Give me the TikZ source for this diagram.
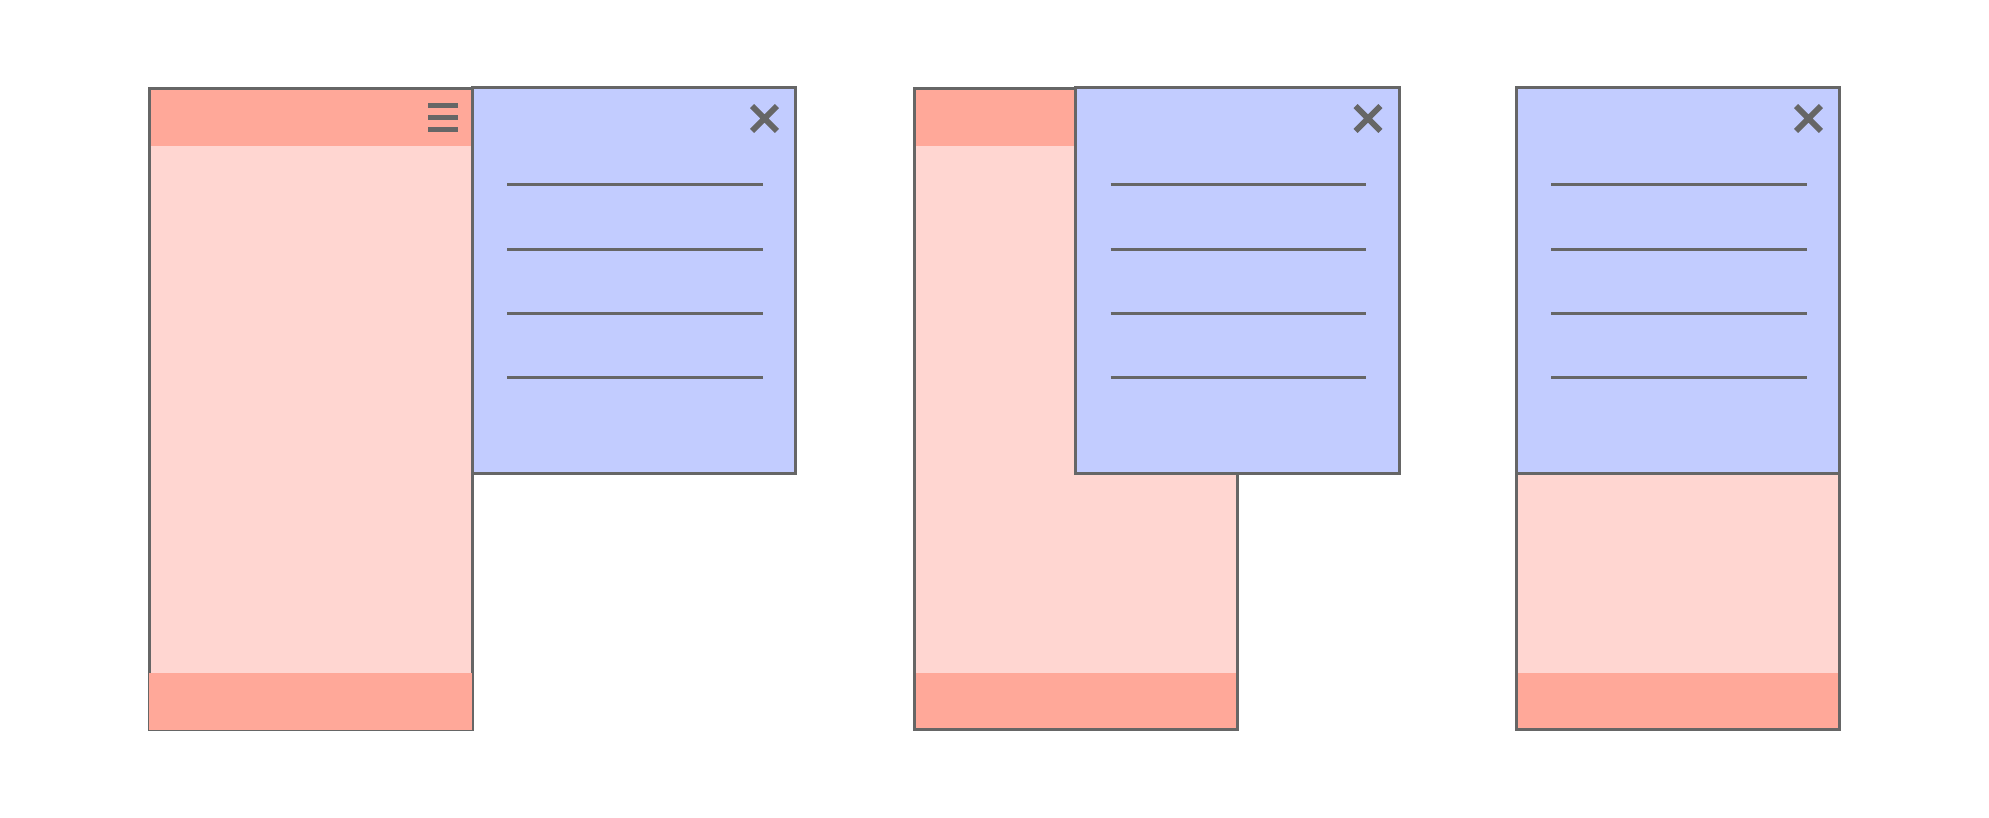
\documentclass[tikz,border=0pt]{standalone}
\usepackage{xcolor}
\usepackage{tikz}
\usetikzlibrary{positioning, shapes.misc}
\definecolor{pagebg}{rgb}{1.0,0.84,0.82}
\definecolor{barbg}{rgb}{1.0,0.66,0.60}
\definecolor{drawerbg}{rgb}{0.76,0.80,1.0}
\definecolor{edgegray}{rgb}{0.4,0.4,0.4}

\begin{document}
\begin{tikzpicture}[
    page/.style={rectangle, fill=pagebg, minimum width=3.23cm, minimum height=6.41cm, inner sep=0pt, outer sep=0pt},
    bar/.style={rectangle, fill=barbg, minimum width=3.23cm, minimum height=0.57cm, inner sep=0pt, outer sep=0pt},
    drawer/.style={rectangle, draw=edgegray, fill=drawerbg, line width=0.03cm, minimum width=3.235cm, minimum height=3.865cm, inner sep=0pt, outer sep=0pt},
    frame/.style={draw=edgegray, line width=0.03cm},
    item/.style={draw=edgegray, line width=0.03cm},
    burger/.style={draw=edgegray, line width=0.055cm},
    closex/.style={cross out, draw=edgegray, line width=0.058cm, minimum size=0.19cm, inner sep=0pt}
]
\fill[white] (0,0) rectangle (19.89,-8.18);
\useasboundingbox (0,0) rectangle (19.89,-8.18);

% menu open, drawer beside the page
\node[page, anchor=north west] (pageA) at (1.49,-0.89) {};
\node[bar, anchor=north] (headA) at (pageA.north) {};
\draw[frame] (pageA.north west) rectangle (pageA.south east);
\node[bar, anchor=south] (footA) at (pageA.south) {};
\coordinate (menuA) at ([xshift=-0.29cm]headA.east);
\foreach \d in {0.12,0,-0.12}
    \draw[burger] ([xshift=-0.15cm,yshift=\d cm]menuA) -- ([xshift=0.15cm,yshift=\d cm]menuA);
\node[drawer, anchor=north west] (drawerA) at ([yshift=0.015cm]pageA.north east) {};
\node[closex] (closeA) at ([xshift=-0.31cm,yshift=-0.31cm]drawerA.north east) {};
\foreach \y in {0.975,1.62,2.265,2.905}
    \draw[item] ([xshift=0.35cm,yshift=-\y cm]drawerA.north west) -- ([xshift=-0.33cm,yshift=-\y cm]drawerA.north east);

% drawer over half the page
\node[page, anchor=north west] (pageB) at (9.14,-0.89) {};
\node[bar, anchor=north] (headB) at (pageB.north) {};
\node[bar, anchor=south] (footB) at (pageB.south) {};
\draw[frame] (pageB.north west) rectangle (pageB.south east);
\node[drawer, anchor=north west] (drawerB) at ([yshift=0.015cm]pageB.north) {};
\node[closex] (closeB) at ([xshift=-0.31cm,yshift=-0.31cm]drawerB.north east) {};
\foreach \y in {0.975,1.62,2.265,2.905}
    \draw[item] ([xshift=0.35cm,yshift=-\y cm]drawerB.north west) -- ([xshift=-0.33cm,yshift=-\y cm]drawerB.north east);

% drawer over the whole page
\node[page, anchor=north west] (pageC) at (15.16,-0.89) {};
\node[bar, anchor=south] (footC) at (pageC.south) {};
\draw[frame] (pageC.north west) rectangle (pageC.south east);
\node[drawer, anchor=north west] (drawerC) at ([yshift=0.015cm]pageC.north west) {};
\node[closex] (closeC) at ([xshift=-0.31cm,yshift=-0.31cm]drawerC.north east) {};
\foreach \y in {0.975,1.62,2.265,2.905}
    \draw[item] ([xshift=0.35cm,yshift=-\y cm]drawerC.north west) -- ([xshift=-0.33cm,yshift=-\y cm]drawerC.north east);
\end{tikzpicture}
\end{document}
